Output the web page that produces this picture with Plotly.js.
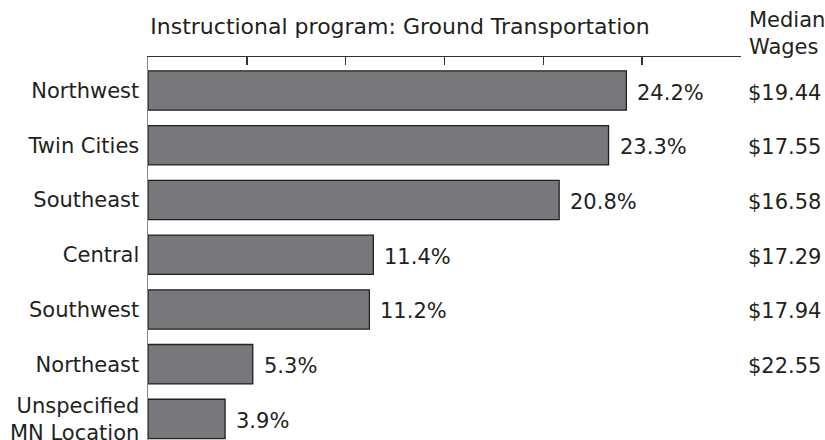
<!DOCTYPE html>
<html><head><meta charset="utf-8">
<script src="https://cdn.plot.ly/plotly-3.0.1.min.js"></script>
<style>body{margin:0;background:#fff}#c{width:825px;height:440px}</style>
</head><body><div id="c"></div>
<script>
const regions = ["Northwest", "Twin Cities", "Southeast", "Central", "Southwest", "Northeast", "Unspecified<br>MN Location"];
const shares = [24.2, 23.3, 20.8, 11.4, 11.2, 5.3, 3.9];
const shareLabels = ["24.2%", "23.3%", "20.8%", "11.4%", "11.2%", "5.3%", "3.9%"];
const wages = ["$19.44", "$17.55", "$16.58", "$17.29", "$17.94", "$22.55", ""];
const xTicks = [0, 5, 10, 15, 20, 25, 30];

const FONT = "DejaVu Sans, Verdana, sans-serif";
const TXT = "#231f20";
const PLOT_W = 825 - 148 - 84, PLOT_H = 440 - 57;

const annotations = [];
regions.forEach((r, i) => {
  annotations.push({x: shares[i], y: r, xref: "x", yref: "y", text: shareLabels[i],
    showarrow: false, xanchor: "left", xshift: 9, yshift: -2, font: {family: FONT, size: 21, color: TXT}});
  if (wages[i]) annotations.push({x: 1 + (823 - 148 - PLOT_W) / PLOT_W, y: r, xref: "paper", yref: "y", text: wages[i],
    showarrow: false, xanchor: "right", yshift: -2, font: {family: FONT, size: 21, color: TXT}});
});
annotations.push({x: (747 - 148) / PLOT_W, y: (440 - 6) / PLOT_H, xref: "paper", yref: "paper", text: "Median<br>Wages",
  showarrow: false, xanchor: "left", yanchor: "top", align: "left", font: {family: FONT, size: 21, color: TXT}});

Plotly.newPlot("c", [{
  type: "bar", orientation: "h", y: regions, x: shares, width: 0.72,
  marker: {color: "#77787b", line: {color: "#231f20", width: 1.3}},
  hoverinfo: "none"
}], {
  width: 825, height: 440,
  margin: {l: 148, r: 84, t: 57, b: 0},
  paper_bgcolor: "#fff", plot_bgcolor: "#fff",
  font: {family: FONT, size: 21, color: TXT},
  showlegend: false,
  title: {text: "Instructional program: Ground Transportation", x: 400/825, xanchor: "center",
    y: 1 - 26/440, yanchor: "middle", yref: "container", font: {family: FONT, size: 22, color: TXT}},
  xaxis: {side: "top", range: [0, 30], tickvals: xTicks, showticklabels: false, ticks: "inside",
    ticklen: 8, tickwidth: 1.5, tickcolor: "#333", showline: true, linecolor: "#333", linewidth: 1.5,
    showgrid: false, zeroline: false, fixedrange: true},
  yaxis: {type: "category", range: [6.384, -0.612], showline: true, linecolor: "#888", linewidth: 1.5,
    ticks: "", ticklabelstandoff: 3, showgrid: false, zeroline: false, fixedrange: true,
    tickfont: {family: FONT, size: 21, color: TXT}},
  annotations: annotations
}, {displayModeBar: false, staticPlot: true});
</script></body></html>
